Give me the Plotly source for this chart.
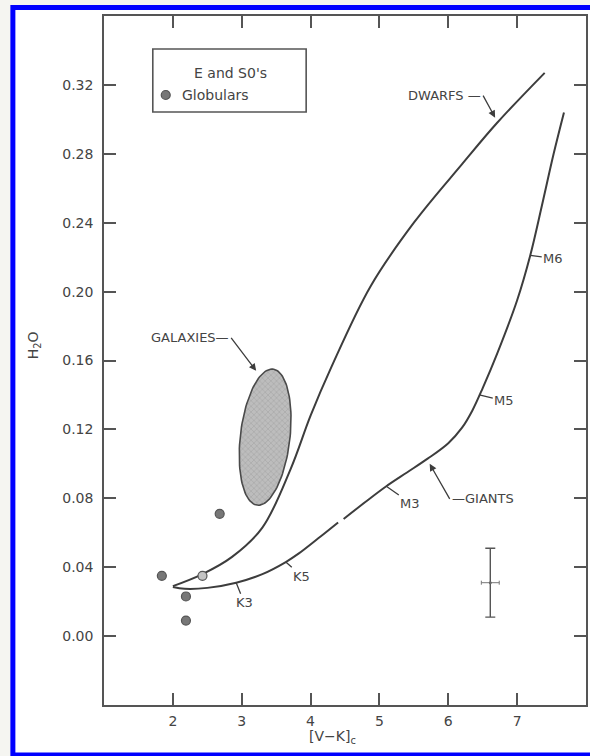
import numpy as np
import plotly.graph_objects as go

# ---- data: H2O index versus [V-K]c -------------------------------------
dwarf_vk = [2.00, 2.43, 2.86, 3.30, 3.71, 4.00, 4.30, 4.87, 5.50, 6.20, 6.71, 7.40]
dwarf_h2o = [0.029, 0.036, 0.046, 0.063, 0.097, 0.128, 0.156, 0.203, 0.240, 0.274, 0.298, 0.327]

giant_vk = [2.00, 2.17, 2.50, 2.92, 3.30, 3.64, 3.83, 4.15, 4.40, None,
            4.48, 4.80, 5.10, 5.40, 5.70, 6.00, 6.20, 6.35, 6.50, 6.71, 7.00, 7.19, 7.36, 7.53, 7.68]
giant_h2o = [0.0285, 0.0275, 0.028, 0.031, 0.036, 0.043, 0.048, 0.058, 0.066, None,
             0.068, 0.078, 0.087, 0.095, 0.103, 0.112, 0.121, 0.131, 0.144, 0.164, 0.195, 0.221, 0.250, 0.280, 0.304]

# spectral types marked along the giant sequence
sptype_labels = ["K3", "K5", "M3", "M5", "M6"]
sptype_vk = [2.92, 3.64, 5.10, 6.45, 7.19]
sptype_h2o = [0.031, 0.043, 0.087, 0.140, 0.221]

# globular clusters
glob_vk = [1.84, 2.19, 2.19, 2.43, 2.68]
glob_h2o = [0.035, 0.023, 0.009, 0.035, 0.071]

# region occupied by E and S0 galaxies (centre and two conjugate semi-axes)
gal_center = [3.34, 0.1155]
gal_major = [0.115, 0.0395]
gal_minor = [0.358, -0.0017]

# typical error bar
err_vk = [6.61]
err_h2o = [0.031]
err_dh2o = [0.020]
err_dvk = [0.13]

x_ticks = [2, 3, 4, 5, 6, 7]
x_ticktext = ["2", "3", "4", "5", "6", "7"]
y_ticks = [0.00, 0.04, 0.08, 0.12, 0.16, 0.20, 0.24, 0.28, 0.32]
y_ticktext = ["0.00", "0.04", "0.08", "0.12", "0.16", "0.20", "0.24", "0.28", "0.32"]

# ---- layout geometry (pixels) ------------------------------------------
W, H = 590, 756
PL, PR, PT, PB = 104, 588, 16, 705
INK = "#3d3d3d"
TXT = "#444444"
FONT = "DejaVu Sans"


def pxx(x):
    return (x - PL) / (PR - PL)


def pxy(y):
    return (PB - y) / (PB - PT)


fig = go.Figure()

# galaxy ellipse
t = np.linspace(0, 2 * np.pi, 121)
ex = gal_center[0] + gal_major[0] * np.cos(t) + gal_minor[0] * np.sin(t)
ey = gal_center[1] + gal_major[1] * np.cos(t) + gal_minor[1] * np.sin(t)
fig.add_trace(go.Scatter(
    x=ex, y=ey, mode="lines", fill="toself",
    fillcolor="#b4b4b4",
    fillpattern=dict(shape="x", size=4, solidity=0.25, fgcolor="#858585", bgcolor="#bdbdbd"),
    line=dict(color="#4a4a4a", width=1.6), hoverinfo="skip", showlegend=False,
))

# dwarf and giant sequences
fig.add_trace(go.Scatter(
    x=dwarf_vk, y=dwarf_h2o, mode="lines", line=dict(color=INK, width=2, shape="spline", smoothing=1.0),
    showlegend=False, name="Dwarfs",
))
fig.add_trace(go.Scatter(
    x=giant_vk, y=giant_h2o, mode="lines", connectgaps=False,
    line=dict(color=INK, width=2, shape="spline", smoothing=1.0),
    showlegend=False, name="Giants",
))

# globular clusters
fig.add_trace(go.Scatter(
    x=glob_vk, y=glob_h2o, mode="markers",
    marker=dict(size=9, color=["#777777", "#777777", "#777777", "#c4c4c4", "#777777"],
                line=dict(color="#555555", width=1.2)),
    showlegend=False, name="Globulars",
))

# error bar
fig.add_trace(go.Scatter(
    x=err_vk, y=err_h2o, mode="markers",
    marker=dict(size=3, color="#666666"),
    error_y=dict(type="data", array=err_dh2o, color="#555555", thickness=1.4, width=5),
    error_x=dict(type="data", array=err_dvk, color="#777777", thickness=1.0, width=2),
    showlegend=False,
))

annotations = []

# spectral-type ticks along the giant branch
offsets = [(8, 20), (16, 14), (24, 17), (25, 6), (23, 3)]
for lab, xv, yv, (ax, ay) in zip(sptype_labels, sptype_vk, sptype_h2o, offsets):
    annotations.append(dict(
        x=xv, y=yv, xref="x", yref="y", text=lab, showarrow=True, arrowhead=0,
        arrowwidth=1.3, arrowcolor=INK, ax=ax, ay=ay, standoff=0,
        font=dict(family=FONT, size=13, color=TXT),
    ))

# sequence labels with arrows
annotations.append(dict(
    x=6.68, y=0.301, xref="x", yref="y", text="DWARFS \u2014", showarrow=True,
    arrowhead=2, arrowsize=1.1, arrowwidth=1.3, arrowcolor=INK, ax=-12, ay=-22,
    xanchor="right", yanchor="middle", font=dict(family=FONT, size=13, color=TXT),
))
annotations.append(dict(
    x=3.21, y=0.154, xref="x", yref="y", text="GALAXIES\u2014", showarrow=True,
    arrowhead=2, arrowsize=1.1, arrowwidth=1.3, arrowcolor=INK, ax=-25, ay=-33,
    xanchor="right", yanchor="middle", font=dict(family=FONT, size=13, color=TXT),
))
annotations.append(dict(
    x=5.73, y=0.100, xref="x", yref="y", text="\u2014GIANTS", showarrow=True,
    arrowhead=2, arrowsize=1.1, arrowwidth=1.3, arrowcolor=INK, ax=20, ay=35,
    xanchor="left", yanchor="middle", font=dict(family=FONT, size=13, color=TXT),
))

# axis titles
annotations.append(dict(
    x=pxx(34), y=pxy(345), xref="paper", yref="paper", text="H<sub>2</sub>O",
    xanchor="center", yanchor="middle",
    textangle=-90, showarrow=False, font=dict(family=FONT, size=14, color=TXT),
))
annotations.append(dict(
    x=pxx(333), y=pxy(737), xref="paper", yref="paper", text="[V\u2212K]<sub>c</sub>",
    xanchor="center", yanchor="middle",
    showarrow=False, font=dict(family=FONT, size=14, color=TXT),
))

# key
annotations.append(dict(
    x=pxx(231), y=pxy(73), xref="paper", yref="paper", text="E and S0's",
    xanchor="center", yanchor="middle",
    showarrow=False, font=dict(family=FONT, size=14, color=TXT),
))
annotations.append(dict(
    x=pxx(180), y=pxy(95), xref="paper", yref="paper", text="Globulars",
    xanchor="left", yanchor="middle",
    showarrow=False, font=dict(family=FONT, size=14, color=TXT),
))

shapes = [
    # page background inside the blue frame
    dict(type="rect", xref="paper", yref="paper", layer="below",
         x0=pxx(14), x1=pxx(600), y0=pxy(10), y1=pxy(753),
         fillcolor="white", line=dict(width=0)),
    # blue frame
    dict(type="rect", xref="paper", yref="paper", layer="above",
         x0=pxx(12.5), x1=pxx(605), y0=pxy(7.5), y1=pxy(755),
         line=dict(color="#0000ff", width=5)),
    # key box
    dict(type="rect", xref="paper", yref="paper",
         x0=pxx(153), x1=pxx(307), y0=pxy(49), y1=pxy(112),
         line=dict(color="#555555", width=1.6)),
    # key marker
    dict(type="circle", xref="paper", yref="paper", xsizemode="pixel", ysizemode="pixel",
         xanchor=pxx(166), yanchor=pxy(95), x0=-4.5, x1=4.5, y0=-4.5, y1=4.5,
         fillcolor="#777777", line=dict(color="#555555", width=1.2)),
]

axis_common = dict(
    showline=True, linecolor="#555555", linewidth=1.6, mirror="ticks",
    ticks="inside", ticklen=12, tickwidth=1.5, tickcolor="#555555",
    showgrid=False, zeroline=False,
    tickfont=dict(family=FONT, size=14, color=TXT),
)

fig.update_layout(
    width=W, height=H,
    margin=dict(l=PL, r=W - PR, t=PT, b=H - PB),
    paper_bgcolor="#f5f5f1", plot_bgcolor="white",
    xaxis=dict(range=[1, 8], tickvals=x_ticks, ticktext=x_ticktext,
               ticklabelstandoff=2, **axis_common),
    yaxis=dict(range=[-0.04, 0.36], tickvals=y_ticks, ticktext=y_ticktext,
               ticklabelstandoff=6, **axis_common),
    annotations=annotations, shapes=shapes,
    showlegend=False,
)

fig.write_html("out.html")
